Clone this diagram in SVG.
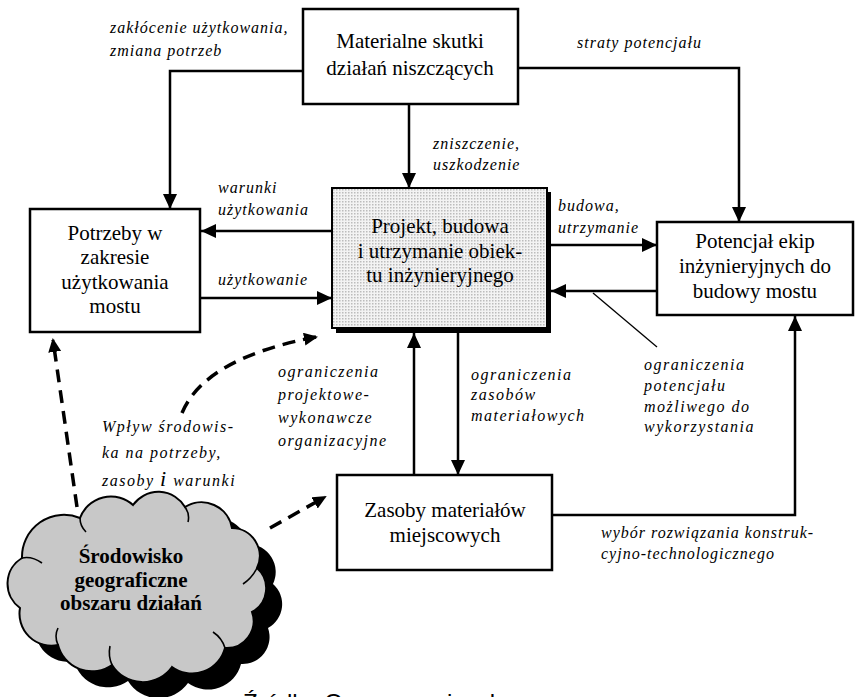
<svg xmlns="http://www.w3.org/2000/svg" width="855" height="697" viewBox="0 0 855 697">
  <style>
    .box { fill: #fff; stroke: #000; stroke-width: 2.5; }
    .bt { font-family: "Liberation Serif", "Times New Roman", serif; font-size: 21px; fill: #000; text-anchor: middle; }
    .lb { font-family: "Liberation Serif", "Times New Roman", serif; font-size: 16px; font-style: italic; fill: #000; letter-spacing: 1px; }
    .lw { letter-spacing: 1.5px; }
    .ln { fill: none; stroke: #000; stroke-width: 2.5; }
    .dash { fill: none; stroke: #000; stroke-width: 3.5; stroke-dasharray: 13 8; }
    .crease { fill: none; stroke: #000; stroke-width: 1.6; }
    .cap { font-family: "Liberation Sans", Arial, sans-serif; font-size: 24px; fill: #000; }
  </style>
  <defs>
    <marker id="ah" markerWidth="15" markerHeight="14" refX="15" refY="7" orient="auto" markerUnits="userSpaceOnUse">
      <path d="M0,0 L15,7 L0,14 z" fill="#000"/>
    </marker>
    <marker id="ahd" markerWidth="14" markerHeight="13" refX="12" refY="6.5" orient="auto" markerUnits="userSpaceOnUse">
      <path d="M0,0 L14,6.5 L0,13 z" fill="#000"/>
    </marker>
    <pattern id="dots" width="3" height="3" patternUnits="userSpaceOnUse">
      <rect width="3" height="3" fill="#f3f3f3"/>
      <rect width="1.5" height="1.5" fill="#bcbcbc"/>
    </pattern>
    <path id="cloudShape" d="M80,518 A33,33 0 0 1 133,505 A31,31 0 0 1 185,507 A31,31 0 0 1 232,528 A28,28 0 0 1 257,568 A27,27 0 0 1 252,612 A27,27 0 0 1 225,648 A34,34 0 0 1 172,667 A36,36 0 0 1 112,665 A35,35 0 0 1 58,645 A32,32 0 0 1 20,608 A30,30 0 0 1 22,558 A42,42 0 0 1 80,518 Z"/>
  </defs>

  <!-- connectors -->
  <g id="connectors">
    <path class="ln" d="M303,71 H170 V209" marker-end="url(#ah)"/>
    <path class="ln" d="M409,104 V188" marker-end="url(#ah)"/>
    <path class="ln" d="M518,68 H739 V222" marker-end="url(#ah)"/>
    <path class="ln" d="M332,231 H201" marker-end="url(#ah)"/>
    <path class="ln" d="M201,298 H332" marker-end="url(#ah)"/>
    <path class="ln" d="M551,245 H657" marker-end="url(#ah)"/>
    <path class="ln" d="M657,291 H551" marker-end="url(#ah)"/>
    <path class="ln" d="M414,475 V333" marker-end="url(#ah)"/>
    <path class="ln" d="M458,333 V475" marker-end="url(#ah)"/>
    <path class="ln" d="M552,515 H795 V316" marker-end="url(#ah)"/>
    <line x1="593" y1="293" x2="657" y2="347" stroke="#000" stroke-width="1.3"/>
    <path class="dash" d="M77,507 L53,340" marker-end="url(#ahd)"/>
    <path class="dash" d="M182,413 Q205,358 316,337" marker-end="url(#ahd)"/>
    <path class="dash" d="M270,528 L325,497" marker-end="url(#ahd)"/>
  </g>

  <!-- connector labels -->
  <g id="labels">
    <text class="lb" x="110" y="33">zakłócenie użytkowania,</text>
    <text class="lb" x="110" y="56">zmiana potrzeb</text>
    <text class="lb" x="577" y="48">straty potencjału</text>
    <text class="lb" x="433" y="149">zniszczenie,</text>
    <text class="lb" x="433" y="170">uszkodzenie</text>
    <text class="lb" x="218" y="193">warunki</text>
    <text class="lb" x="218" y="215">użytkowania</text>
    <text class="lb" x="218" y="285">użytkowanie</text>
    <text class="lb" x="558" y="211">budowa,</text>
    <text class="lb" x="558" y="233">utrzymanie</text>
    <text class="lb lw" x="471" y="380">ograniczenia</text>
    <text class="lb lw" x="471" y="400">zasobów</text>
    <text class="lb lw" x="471" y="421">materiałowych</text>
    <text class="lb lw" x="644" y="370">ograniczenia</text>
    <text class="lb lw" x="644" y="391">potencjału</text>
    <text class="lb lw" x="644" y="412">możliwego do</text>
    <text class="lb lw" x="644" y="432">wykorzystania</text>
    <text class="lb lw" x="278" y="377">ograniczenia</text>
    <text class="lb lw" x="278" y="400">projektowe-</text>
    <text class="lb lw" x="278" y="423">wykonawcze</text>
    <text class="lb lw" x="278" y="446">organizacyjne</text>
    <text class="lb lw" x="102" y="432">Wpływ środowis-</text>
    <text class="lb lw" x="102" y="458">ka na potrzeby,</text>
    <text class="lb lw" x="102" y="486">zasoby <tspan font-size="22px">i</tspan> warunki</text>
    <text class="lb" x="601" y="538" letter-spacing="1.3">wybór rozwiązania konstruk-</text>
    <text class="lb" x="601" y="559" letter-spacing="1.3">cyjno-technologicznego</text>
  </g>

  <g id="skutki">
    <rect class="box" x="303" y="9" width="215" height="95"/>
    <text class="bt" x="410" y="48">Materialne skutki</text>
    <text class="bt" x="410" y="75">działań niszczących</text>
  </g>

  <g id="potrzeby">
    <rect class="box" x="30" y="209" width="170" height="123"/>
    <text class="bt" x="115" y="240">Potrzeby w</text>
    <text class="bt" x="115" y="264">zakresie</text>
    <text class="bt" x="115" y="289">użytkowania</text>
    <text class="bt" x="115" y="313">mostu</text>
  </g>

  <g id="projekt">
    <rect x="336" y="192" width="215" height="141" fill="#000"/>
    <rect x="332" y="188" width="215" height="140" fill="url(#dots)" stroke="#000" stroke-width="2"/>
    <text class="bt" x="440" y="233">Projekt, budowa</text>
    <text class="bt" x="440" y="258">i utrzymanie obiek-</text>
    <text class="bt" x="440" y="282">tu inżynieryjnego</text>
  </g>

  <g id="potencjal">
    <rect class="box" x="657" y="222" width="196" height="93"/>
    <text class="bt" x="755" y="248">Potencjał ekip</text>
    <text class="bt" x="755" y="273">inżynieryjnych do</text>
    <text class="bt" x="755" y="298">budowy mostu</text>
  </g>

  <g id="zasoby">
    <rect class="box" x="337" y="475" width="215" height="95"/>
    <text class="bt" x="445" y="517">Zasoby materiałów</text>
    <text class="bt" x="445" y="542">miejscowych</text>
  </g>

  <g id="srodowisko">
    <use href="#cloudShape" transform="translate(16,16)" fill="#000"/>
    <use href="#cloudShape" fill="#c8c8c8" stroke="#000" stroke-width="2"/>
    <!-- inner folds of the cloud outline -->
    <path class="crease" d="M22,558 Q32,556 42,563"/>
    <path class="crease" d="M80,518 Q80,526 86,532"/>
    <path class="crease" d="M185,507 Q190,514 188,522"/>
    <path class="crease" d="M257,568 Q252,578 243,584"/>
    <path class="crease" d="M225,648 Q222,638 213,632"/>
    <path class="crease" d="M112,665 Q108,656 110,646"/>
    <path class="crease" d="M58,645 Q54,636 58,628"/>
    <text class="bt" x="131" y="563" font-weight="bold" font-size="20px">Środowisko</text>
    <text class="bt" x="131" y="587" font-weight="bold" font-size="20px">geograficzne</text>
    <text class="bt" x="131" y="610" font-weight="bold" font-size="20px">obszaru działań</text>
  </g>

  <text class="cap" x="243" y="711">Źródło: Opracowanie własne</text>
</svg>
